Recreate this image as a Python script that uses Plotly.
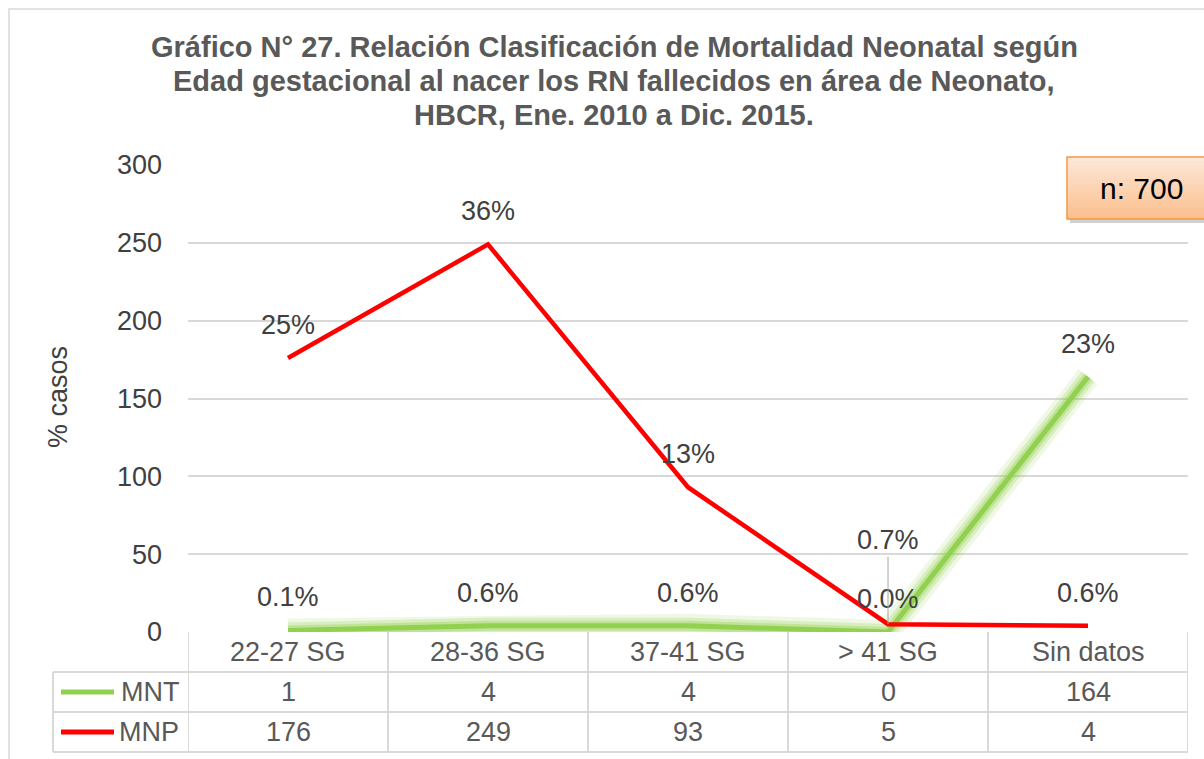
import plotly.graph_objects as go

# ---------------- data ----------------
categories = ["22-27 SG", "28-36 SG", "37-41 SG", "> 41 SG", "Sin datos"]
mnt_values = [1, 4, 4, 0, 164]
mnp_values = [176, 249, 93, 5, 4]
mnt_labels = ["0.1%", "0.6%", "0.6%", "0.0%", "23%"]
mnp_labels = ["25%", "36%", "13%", "0.7%", "0.6%"]
series_names = ["MNT", "MNP"]
y_ticks = [0, 50, 100, 150, 200, 250, 300]
title_lines = [
    "Gráfico N° 27. Relación Clasificación de Mortalidad Neonatal según",
    "Edad gestacional al nacer los RN fallecidos en área de Neonato,",
    "HBCR, Ene. 2010 a Dic. 2015.",
]
n_label = "n: 700"

# ---------------- layout helpers ----------------
W, H = 1204, 759
L, R, T, B = 188, 1188, 165, 632
FONT = "Liberation Sans, Arial, sans-serif"
GREEN = "#92D050"
RED = "#FF0000"
GRID = "#D9D9D9"
TXT = "#404040"
TBL = "#595959"
FS = 27


def fx(px):
    return (px - L) / (R - L)


def fy(py):
    return (B - py) / (B - T)


fig = go.Figure()

# green glow
for w, a in [(24, 0.15), (16, 0.25), (10, 0.35)]:
    fig.add_trace(go.Scatter(x=categories, y=mnt_values, mode="lines",
                             line=dict(color=f"rgba(146,208,80,{a})", width=w),
                             hoverinfo="skip", showlegend=False))
fig.add_trace(go.Scatter(x=categories, y=mnt_values, mode="lines", name=series_names[0],
                         line=dict(color=GREEN, width=5), showlegend=False))
fig.add_trace(go.Scatter(x=categories, y=mnp_values, mode="lines", name=series_names[1],
                         line=dict(color=RED, width=4.5), showlegend=False))

annotations = []
shapes = []

# title
for i, line in enumerate(title_lines):
    annotations.append(dict(text=f"<b>{line}</b>", xref="paper", yref="paper",
                            x=fx(614), y=fy(47 + 34 * i), showarrow=False,
                            xanchor="center", yanchor="middle",
                            font=dict(family=FONT, size=29, color="#595959")))

# y axis title
annotations.append(dict(text="% casos", xref="paper", yref="paper", x=fx(58), y=fy(397),
                        textangle=-90, showarrow=False, xanchor="center", yanchor="middle",
                        font=dict(family=FONT, size=FS, color=TXT)))

# data labels
for i, c in enumerate(categories):
    annotations.append(dict(text=mnt_labels[i], x=c, y=mnt_values[i], xref="x", yref="y",
                            showarrow=False, yshift=33, xanchor="center", yanchor="middle",
                            font=dict(family=FONT, size=FS, color=TXT)))
    if i == 3:
        annotations.append(dict(text=mnp_labels[i], x=c, y=mnp_values[i], xref="x", yref="y",
                                showarrow=True, ax=0, ay=-84, arrowhead=0, arrowwidth=1,
                                arrowcolor="#A6A6A6", standoff=0,
                                font=dict(family=FONT, size=FS, color=TXT)))
    else:
        annotations.append(dict(text=mnp_labels[i], x=c, y=mnp_values[i], xref="x", yref="y",
                                showarrow=False, yshift=33, xanchor="center", yanchor="middle",
                                font=dict(family=FONT, size=FS, color=TXT)))

# data table
row_tops = [632, 672, 712, 752]
row_centers = [652, 692, 732]
for i, c in enumerate(categories):
    for txt, yc in [(c, row_centers[0]), (str(mnt_values[i]), row_centers[1]),
                    (str(mnp_values[i]), row_centers[2])]:
        annotations.append(dict(text=txt, x=c, xref="x", yref="paper", y=fy(yc),
                                xanchor="center", yanchor="middle", showarrow=False,
                                font=dict(family=FONT, size=FS, color=TBL)))

# table lines
line_style = dict(color=GRID, width=2)
for yy in row_tops[1:]:
    shapes.append(dict(type="line", xref="paper", yref="paper", x0=fx(53), x1=fx(1188),
                       y0=fy(yy), y1=fy(yy), line=line_style, layer="below"))
for k in range(len(categories) + 1):
    shapes.append(dict(type="line", xref="x", yref="paper", x0=k - 0.5, x1=k - 0.5,
                       y0=fy(632), y1=fy(752), line=line_style, layer="below"))
shapes.append(dict(type="line", xref="paper", yref="paper", x0=fx(53), x1=fx(53),
                   y0=fy(672), y1=fy(752), line=line_style, layer="below"))

# legend keys in table
for name, col, yc in [(series_names[0], GREEN, 692), (series_names[1], RED, 732)]:
    shapes.append(dict(type="line", xref="paper", yref="paper", x0=fx(61), x1=fx(114),
                       y0=fy(yc), y1=fy(yc), line=dict(color=col, width=5)))
    annotations.append(dict(text=name, xref="paper", yref="paper", x=fx(181), y=fy(yc),
                            xanchor="right", yanchor="middle", showarrow=False,
                            font=dict(family=FONT, size=FS, color=TBL)))

# outer chart border
shapes.append(dict(type="rect", xref="paper", yref="paper", x0=fx(9), x1=fx(1230),
                   y0=fy(9), y1=fy(790), line=dict(color=GRID, width=1.5), layer="below"))

# n: 700 box (shadow + gradient bands + border)
bx0, bx1, by0, by1 = 1067, 1215, 157, 219
shapes.append(dict(type="rect", xref="paper", yref="paper", x0=fx(bx0 + 3), x1=fx(bx1 + 3),
                   y0=fy(by0 + 4), y1=fy(by1 + 4), line=dict(width=0),
                   fillcolor="rgba(0,0,0,0.18)"))
c_top = (253, 231, 214)
c_bot = (251, 192, 143)
nb = 16
for k in range(nb):
    t = k / (nb - 1)
    col = tuple(round(c_top[j] + (c_bot[j] - c_top[j]) * t) for j in range(3))
    ya = by0 + (by1 - by0) * k / nb
    yb = by0 + (by1 - by0) * (k + 1) / nb
    shapes.append(dict(type="rect", xref="paper", yref="paper", x0=fx(bx0), x1=fx(bx1),
                       y0=fy(ya), y1=fy(yb + 0.5), line=dict(width=0),
                       fillcolor=f"rgb{col}"))
shapes.append(dict(type="rect", xref="paper", yref="paper", x0=fx(bx0), x1=fx(bx1),
                   y0=fy(by0), y1=fy(by1), line=dict(color="#F79646", width=1.5)))
annotations.append(dict(text=n_label, xref="paper", yref="paper", x=fx(1141), y=fy(188),
                        showarrow=False, xanchor="center", yanchor="middle",
                        font=dict(family=FONT, size=30, color="#000000")))

fig.update_layout(
    width=W, height=H,
    margin=dict(l=L, r=W - R, t=T, b=H - B),
    paper_bgcolor="white", plot_bgcolor="white",
    font=dict(family=FONT, size=FS, color=TXT),
    showlegend=False,
    xaxis=dict(type="category", range=[-0.5, 4.5], showticklabels=False, showgrid=False,
               zeroline=False, showline=False, fixedrange=True),
    yaxis=dict(range=[0, 300], tickvals=y_ticks, ticktext=[str(v) for v in y_ticks],
               showgrid=True, gridcolor=GRID, gridwidth=1.5, zeroline=False, showline=False,
               ticks="", ticklabelstandoff=25,
               tickfont=dict(family=FONT, size=FS, color=TXT), fixedrange=True),
    annotations=annotations,
    shapes=shapes,
)

fig.write_html("out.html", post_script="document.body.style.margin='0';",
               config={"displayModeBar": False})
